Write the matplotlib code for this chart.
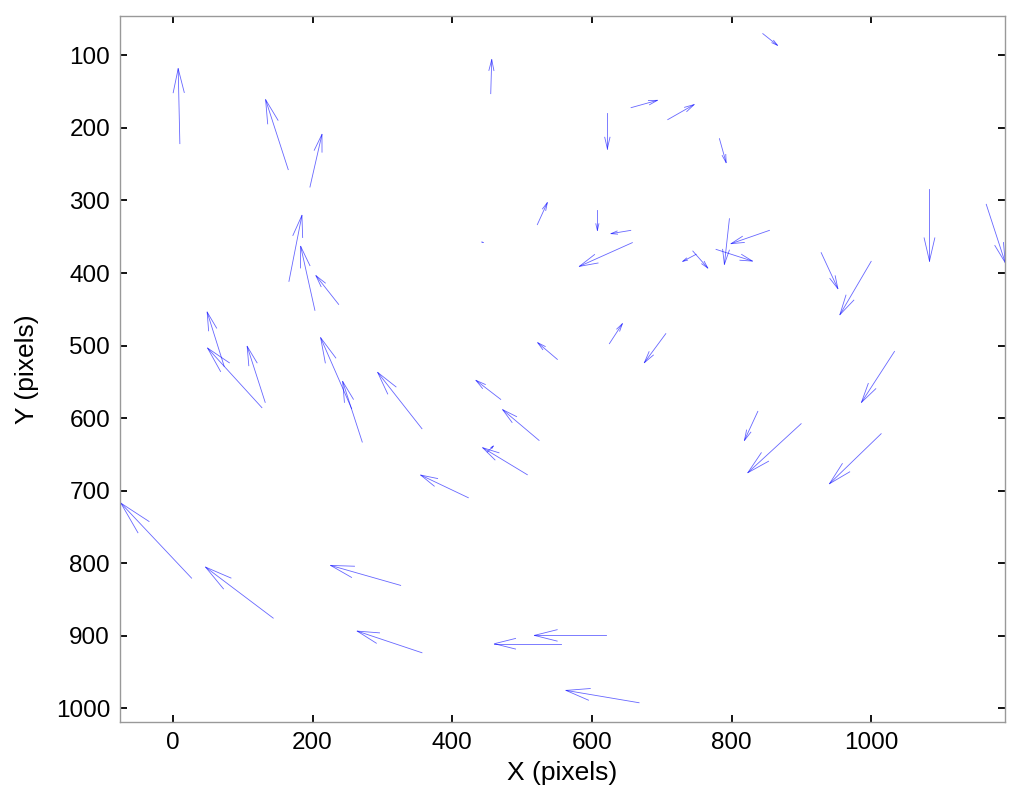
import numpy as np
import matplotlib.pyplot as plt

# arrow tails (x, y in pixels) and components (u, v)
x_tail = [10.0, 165.2, 196.3, 455.2, 622.2, 656.2, 708.7, 844.8, 782.7, 1083.5,
          1164.8, 521.9, 607.9, 655.7, 658.0, 443.7, 854.3, 797.0, 777.9, 749.3,
          744.6, 928.4, 1000.0, 166.2, 203.4, 237.4, 73.5, 127.5, 132.2, 256.0,
          271.2, 356.7, 625.1, 705.9, 550.6, 469.5, 524.4, 1033.4, 837.7, 899.7,
          1014.3, 507.6, 450.3, 423.1, 26.8, 143.7, 326.2, 356.7, 619.9, 555.4,
          667.6]
y_tail = [221.7, 257.5, 281.5, 152.8, 179.5, 172.1, 188.6, 70.1, 214.8, 283.7,
          305.3, 333.3, 312.7, 341.2, 358.1, 357.3, 341.2, 325.1, 367.4, 374.2,
          369.7, 371.9, 383.9, 411.5, 451.4, 443.2, 528.6, 585.5, 578.2, 586.9,
          632.9, 614.5, 497.3, 483.5, 519.0, 574.1, 630.6, 508.0, 590.6, 607.6,
          621.4, 677.9, 646.7, 709.6, 820.4, 875.5, 830.4, 923.2, 899.3, 910.8,
          992.1]
u = [-2.4, -32.4, 17.2, 1.4, 0.0, 37.6, 37.7, 21.0, 9.6, 0.0,
     27.2, 14.3, 0.0, -28.2, -75.9, -1.5, -54.9, -7.2, 52.0, -19.1,
     21.4, 23.9, -44.8, 18.6, -20.4, -32.5, -24.4, -77.8, -25.8, -44.4,
     -28.1, -63.4, 18.6, -30.7, -28.1, -35.4, -52.1, -47.3, -19.2, -76.3,
     -74.0, -63.9, 8.6, -68.2, -101.3, -96.9, -100.3, -92.7, -102.3, -95.1,
     -104.6]
v = [-103.4, -96.4, -72.6, -46.9, 49.1, -10.1, -20.7, 16.1, 33.1, 99.8,
     80.4, -30.3, 28.5, 4.5, 32.7, 0.0, 18.3, 62.9, 16.1, 9.7,
     23.4, 49.6, 73.5, -91.0, -88.2, -39.6, -74.8, -82.1, -77.2, -97.8,
     -83.6, -77.6, -27.5, 40.0, -23.0, -26.2, -42.3, 70.2, 40.0, 67.5,
     68.9, -37.2, -8.3, -31.2, -103.4, -70.3, -27.5, -29.8, 0.0, 0.0,
     -17.0]

plt.rcParams['font.family'] = ['Liberation Sans', 'DejaVu Sans']

fig = plt.figure(figsize=(10.24, 8.07), dpi=100)
ax = fig.add_axes([0.117, 0.105, 0.864, 0.875])

# matlab-style open arrowheads
alpha = 0.32
beta = 0.24
for x0, y0, du, dv in zip(x_tail, y_tail, u, v):
    x1, y1 = x0 + du, y0 + dv
    ax.plot([x0, x1], [y0, y1], color='blue', lw=0.6, alpha=0.6)
    bx1 = x1 - alpha * (du + beta * dv)
    by1 = y1 - alpha * (dv - beta * du)
    bx2 = x1 - alpha * (du - beta * dv)
    by2 = y1 - alpha * (dv + beta * du)
    ax.plot([bx1, x1, bx2], [by1, y1, by2], color='blue', lw=0.6, alpha=0.6)

ax.set_xlim(-76, 1191)
ax.set_ylim(1019, 46)
ax.set_xticks(range(0, 1001, 200))
ax.set_yticks(range(100, 1001, 100))
ax.tick_params(direction='in', top=True, right=True, length=5, width=1.3,
               color='black', labelsize=17.5, pad=7)
for s in ax.spines.values():
    s.set_color('#999999')
    s.set_linewidth(1)
ax.set_xlabel('X (pixels)', fontsize=19, labelpad=5)
ax.set_ylabel('Y (pixels)', fontsize=19, labelpad=12)

plt.savefig('out.png', dpi=100)
